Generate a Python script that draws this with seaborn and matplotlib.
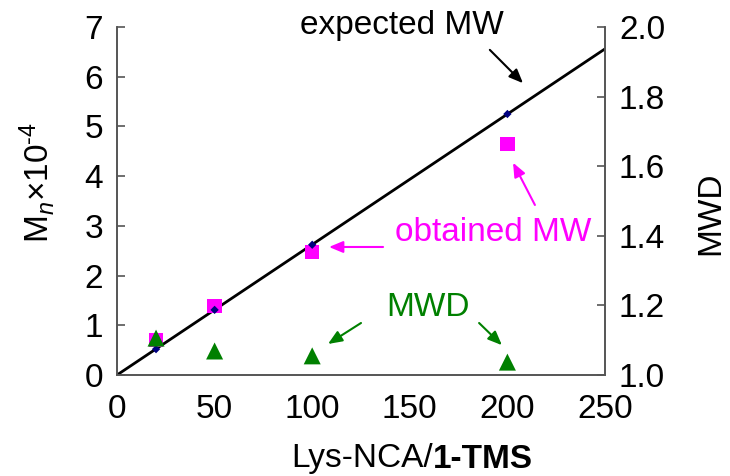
import numpy as np
import pandas as pd
import matplotlib
matplotlib.use("Agg")
import matplotlib.pyplot as plt
import seaborn as sns

# ratio Lys-NCA / 1-TMS
ratio = [20, 50, 100, 200]
# Mn x 10^-4
expected_mn = [0.52, 1.31, 2.62, 5.25]
obtained_mn = [0.70, 1.39, 2.47, 4.65]
# molecular weight distribution
mwd = [1.106, 1.069, 1.055, 1.037]
# theoretical line
line_x = [0, 250]
line_y = [0, 6.56]

sns.set_style("white")
plt.rcParams["font.family"] = ["Liberation Sans", "DejaVu Sans"]
plt.rcParams["mathtext.fontset"] = "custom"
plt.rcParams["mathtext.rm"] = "Liberation Sans"
plt.rcParams["mathtext.it"] = "Liberation Sans:italic"
plt.rcParams["mathtext.bf"] = "Liberation Sans:bold"
plt.rcParams["text.color"] = "black"
plt.rcParams["axes.labelcolor"] = "black"

FS = 24
SPINE = "#555555"

fig = plt.figure(figsize=(7.3, 4.76), dpi=100)
ax = fig.add_axes([117 / 730, 1 - 375 / 476, 488 / 730, 348 / 476])
ax2 = ax.twinx()

mw = pd.DataFrame({"ratio": ratio, "expected": expected_mn, "obtained": obtained_mn, "mwd": mwd})
fit = pd.DataFrame({"x": line_x, "y": line_y})

sns.lineplot(data=fit, x="x", y="y", ax=ax, color="black", linewidth=2)
sns.scatterplot(data=mw, x="ratio", y="obtained", ax=ax, marker="s", s=110,
                color="#ff00ff", edgecolor="none", zorder=3)
sns.scatterplot(data=mw, x="ratio", y="expected", ax=ax, marker="D", s=18,
                color="#000080", edgecolor="none", zorder=4)
sns.scatterplot(data=mw, x="ratio", y="mwd", ax=ax2, marker="^", s=150,
                color="#008000", edgecolor="none", zorder=3)

ax.set_xlim(0, 250)
ax.set_ylim(0, 7)
ax2.set_ylim(1.0, 2.0)
ax.set_xticks([0, 50, 100, 150, 200, 250])
ax.set_yticks(range(8))
ax2.set_yticks([1.0, 1.2, 1.4, 1.6, 1.8, 2.0])
ax2.set_yticklabels(["1.0", "1.2", "1.4", "1.6", "1.8", "2.0"])

for a in (ax, ax2):
    a.spines["top"].set_visible(False)
    for s in ("left", "right", "bottom"):
        a.spines[s].set_color(SPINE)
        a.spines[s].set_linewidth(1.2)
    a.tick_params(direction="in", length=6, width=1.2, color=SPINE,
                  labelcolor="black", labelsize=FS, pad=10)
ax.tick_params(axis="x", pad=14)
ax.set_xlabel("")
ax.set_ylabel(r"M$_{\mathit{n}}$×10$^{\text{-}4}$", fontsize=FS, color="black")
ax.yaxis.set_label_coords(-0.123, 0.552)
ax2.set_ylabel("MWD", fontsize=FS, color="black")
ax2.yaxis.set_label_coords(1.184, 0.466)

# x label: normal + bold parts
fig.text(433 / 730, 1 - 459 / 476, "Lys-NCA/", fontsize=FS, ha="right", va="center",
         color="black")
fig.text(433 / 730, 1 - 459 / 476, "1-TMS", fontsize=FS, ha="left", va="center",
         fontweight="bold", color="black")


def arrow(a, tail, head, color):
    a.annotate("", xy=head, xytext=tail,
               arrowprops=dict(arrowstyle="-|>,head_length=0.6,head_width=0.25",
                               color=color, lw=1.5, mutation_scale=14,
                               shrinkA=0, shrinkB=0))


# annotations
ax.text(146, 7.04, "expected MW", fontsize=FS, color="black", ha="center", va="center")
arrow(ax, (191, 6.54), (208, 5.87), "black")
ax.text(192.6, 2.86, "obtained MW", fontsize=FS, color="#ff00ff", ha="center", va="center")
arrow(ax, (136.3, 2.575), (108.6, 2.575), "#ff00ff")
arrow(ax, (214.1, 3.42), (202.9, 4.27), "#ff00ff")
ax.text(159.3, 1.35, "MWD", fontsize=FS, color="#008000", ha="center", va="center")
arrow(ax, (125, 1.046), (108.1, 0.624), "#008000")
arrow(ax, (185.5, 1.046), (197.2, 0.60), "#008000")

fig.savefig("out.png", dpi=100)
